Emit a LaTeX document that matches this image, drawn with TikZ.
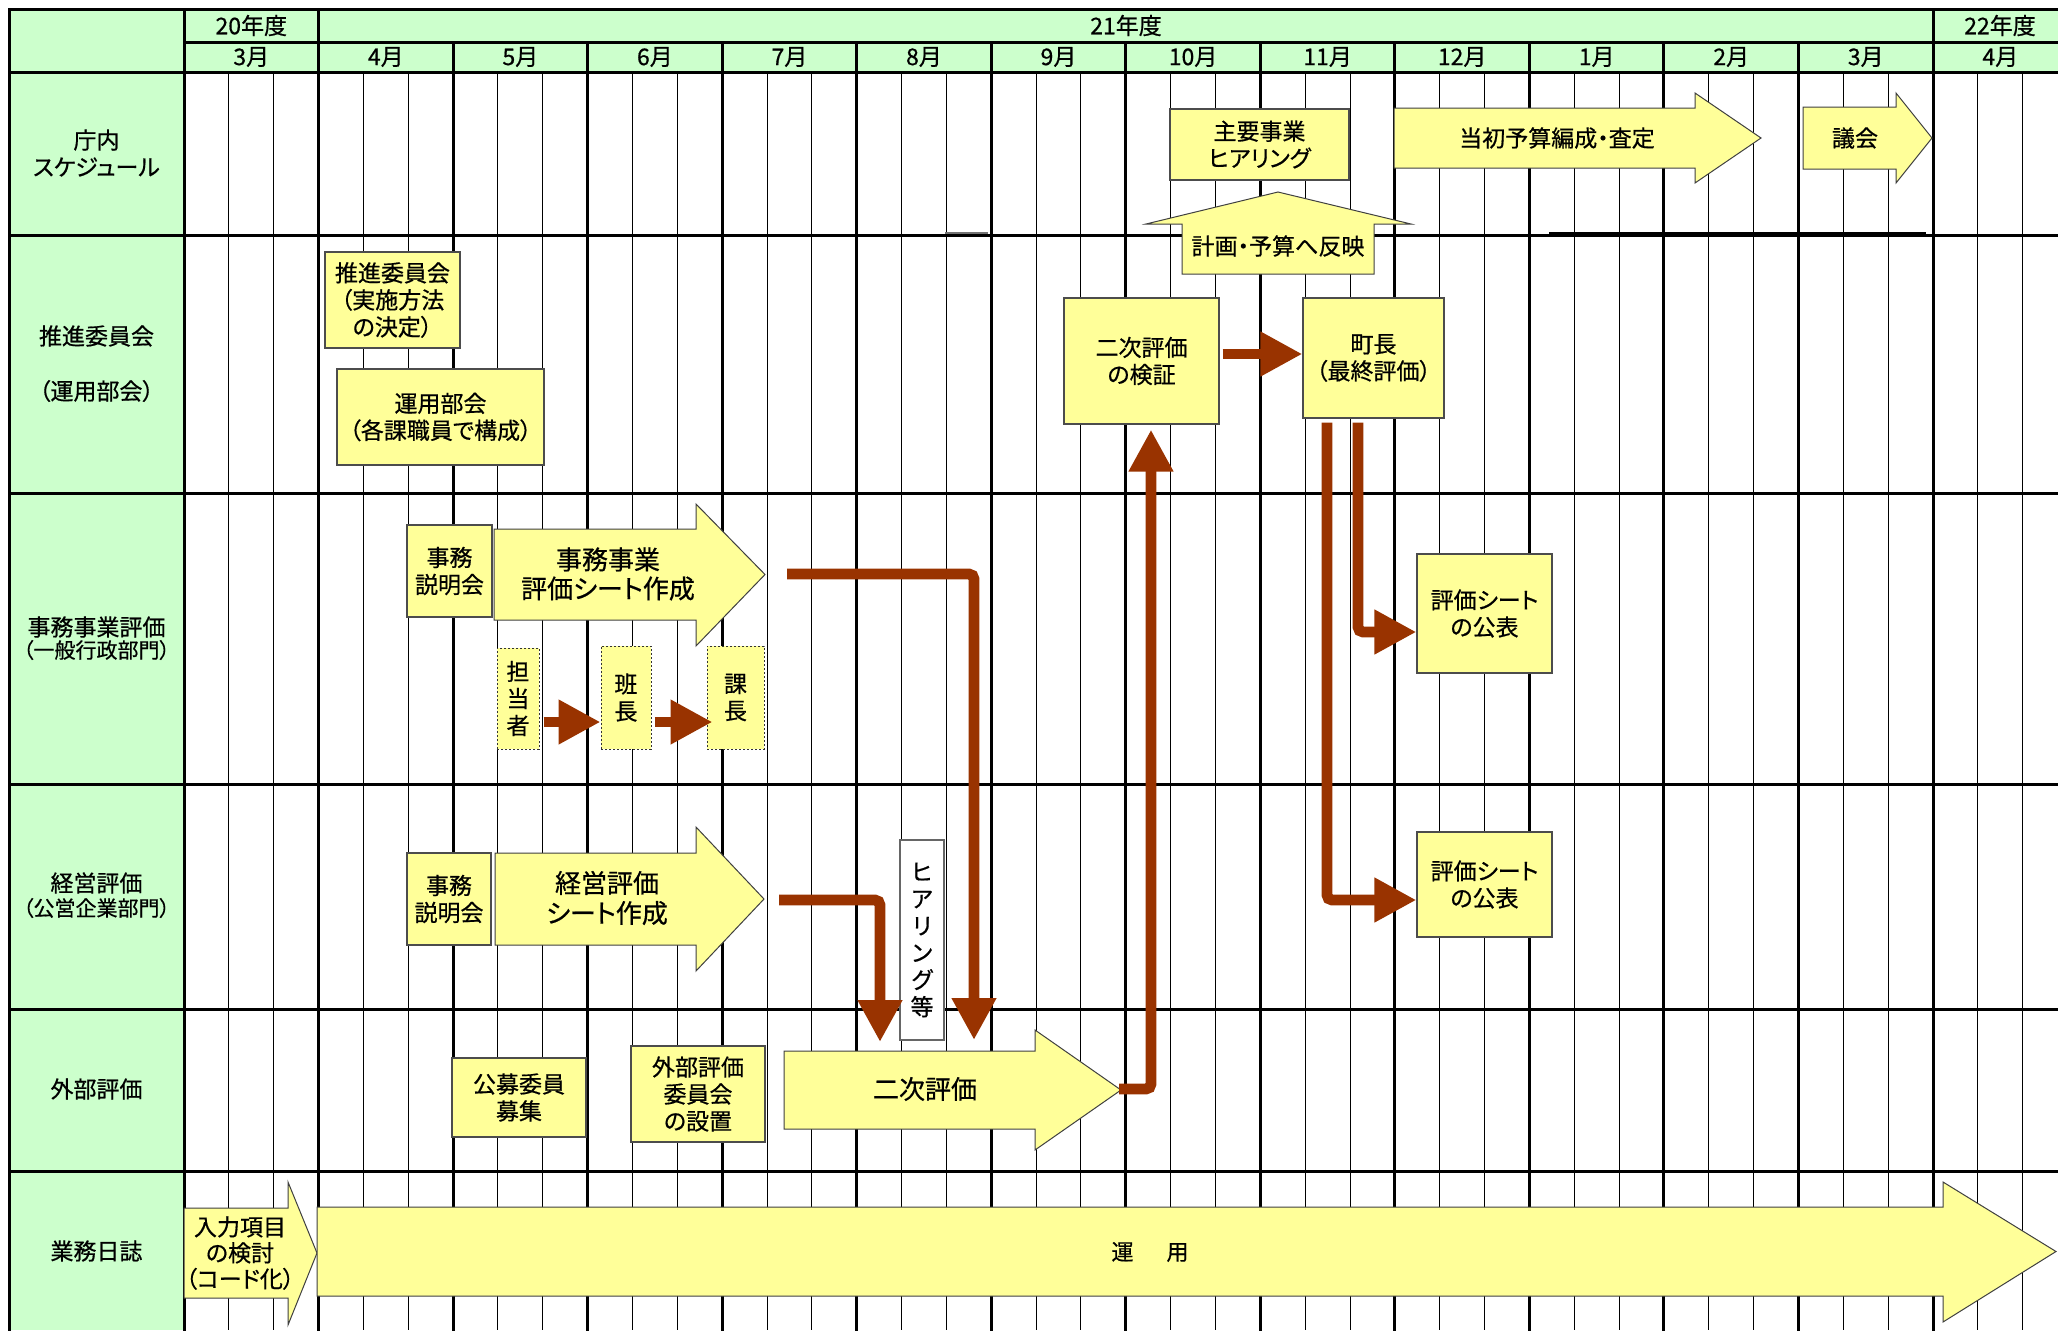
\documentclass[tikz,border=0pt]{standalone}
\usepackage{fontspec}
\setmainfont{Noto Sans CJK JP}[RawFeature={+palt}, FakeBold=0.6]
\usetikzlibrary{arrows.meta,calc}
\definecolor{hdrgreen}{HTML}{CCFFCC}
\definecolor{boxyellow}{HTML}{FFFF99}
\definecolor{conred}{HTML}{993300}
\newcommand{\myblockarrow}[7]{%
  \draw[arrowshape] (#1,#4) -- (#2,#4) -- (#2,#6) -- (#3,{(#4+#5)/2}) -- (#2,#7) -- (#2,#5) -- (#1,#5) -- cycle;}
\tikzset{
 gthin/.style={line width=0.5pt, black},
 gthick/.style={line width=1.5pt, black, line cap=rect},
 txt/.style={font=\fontsize{11.5}{13.5}\selectfont, align=center, inner sep=0pt},
 bigtxt/.style={font=\fontsize{13}{14.5}\selectfont, align=center, inner sep=0pt},
 ybox/.style={txt, draw=black!70, fill=boxyellow, line width=0.6pt},
 dbox/.style={txt, draw=black!80, fill=boxyellow, line width=0.5pt, dash pattern=on 1.2pt off 0.8pt},
 wbox/.style={txt, draw=black!60, fill=white, line width=0.6pt},
 arrowshape/.style={fill=boxyellow, draw=black!75, line width=0.5pt, line join=miter},
 conn/.style={draw=conred, line width=5.4pt, rounded corners=2.5pt, -{Triangle[length=21pt,width=21pt]}},
 hdr/.style={font=\fontsize{11.5}{13.5}\selectfont, inner sep=0pt},
}
\begin{document}
\begin{tikzpicture}[x=0.5pt,y=-0.5pt]
\useasboundingbox (0,0) rectangle (2058,1330);
\fill[white] (0,0) rectangle (2058,1330);
% green areas
\fill[hdrgreen] (9,9) rectangle (2058,72);
\fill[hdrgreen] (9,72) rectangle (184,1330);
% thin sub-column lines
\foreach \k in {0,...,13}{\foreach \j in {1,2}{
  \draw[gthin] ({184+(\k+\j/3)*134.54},72) -- ({184+(\k+\j/3)*134.54},1330);}}
% thick verticals
\foreach \k in {1,...,13}{\draw[gthick] ({184+\k*134.54},42) -- ({184+\k*134.54},1330);}
\draw[gthick] (184,9) -- (184,1330);
\draw[gthick] (318.54,9) -- (318.54,42);
\draw[gthick] (1933,9) -- (1933,42);
\draw[gthick] (9,9) -- (9,1330);
% horizontals
\draw[gthick] (9,9) -- (2058,9);
\draw[gthick] (184,42) -- (2058,42);
\foreach \yy in {72,235,493,784,1009,1171}{\draw[gthick] (9,\yy) -- (2058,\yy);}
\draw[line width=1pt, black!55] (945,232.5) -- (988,232.5);
\draw[line width=1pt, black] (1549,232.5) -- (1926,232.5);
% header texts
\node[hdr] (y20) at (251.3,25.5) {20年度};
\node[hdr] (y21) at (1126,25.5) {21年度};
\node[hdr] (y22) at (2000,25.5) {22年度};
\foreach \m [count=\k from 0] in {3,4,5,6,7,8,9,10,11,12,1,2,3,4}{
  \node[hdr] (mon\k) at ({184+(\k+0.5)*134.54},57) {\m{}月};}
% row labels
\node[txt] (r1) at (96.5,153) {庁内\\スケジュール};
\node[txt] (r2a) at (96.5,336) {推進委員会};
\node[txt] (r2b) at (96.5,391) {（運用部会）};
\node[txt] (r3a) at (96.5,627) {事務事業評価};
\node[txt, font=\fontsize{10.5}{12}\selectfont] (r3b) at (96.5,650) {（一般行政部門）};
\node[txt] (r4a) at (96.5,883) {経営評価};
\node[txt, font=\fontsize{10.5}{12}\selectfont] (r4b) at (96.5,908) {（公営企業部門）};
\node[txt] (r5) at (96.5,1089) {外部評価};
\node[txt] (r6) at (96.5,1251) {業務日誌};
% 庁内スケジュール
\node[ybox, minimum width=89.5pt, minimum height=35.5pt] (shuyo) at (1259.5,144.5) {主要事業\\ヒアリング};
\draw[arrowshape] (1182,274) -- (1182,224) -- (1146,224) -- (1278,192) -- (1411,224) -- (1374,224) -- (1374,274) -- cycle;
\node[txt] (hanei) at (1278,246) {計画・予算へ反映};
\myblockarrow{1394}{1695}{1761}{108}{168}{93}{183}
\node[txt] (tosho) at (1557,138) {当初予算編成・査定};
\myblockarrow{1803}{1896}{1932}{107}{169}{93}{183}
\node[txt] (gikai) at (1855,138) {議会};
% 推進委員会
\node[ybox, minimum width=67.5pt, minimum height=48pt] (suishin) at (392.5,300) {推進委員会\\（実施方法\\の決定）};
\node[ybox, minimum width=103.5pt, minimum height=48pt] (unyo) at (440.5,417) {運用部会\\（各課職員で構成）};
\node[ybox, minimum width=77.5pt, minimum height=63pt] (kensho) at (1141.5,361) {二次評価\\の検証};
\node[ybox, minimum width=70.5pt, minimum height=60pt] (chocho) at (1373.5,358) {町長\\（最終評価）};
% 事務事業評価
\node[ybox, minimum width=42.5pt, minimum height=46pt] (setsu1) at (449.5,571) {事務\\説明会};
\myblockarrow{494}{696}{765}{529}{620}{504}{646}
\node[bigtxt] (jimuArr) at (608,574) {事務事業\\評価シート作成};
\node[dbox, minimum width=21pt, minimum height=50.5pt] (tanto) at (518,698.5) {担\\当\\者};
\node[dbox, minimum width=25pt, minimum height=51.5pt] (hancho) at (626,697.5) {班\\長};
\node[dbox, minimum width=28.5pt, minimum height=51.5pt] (kacho) at (735.5,697.5) {課\\長};
\node[ybox, minimum width=67.5pt, minimum height=59.5pt] (kohyo1) at (1484.5,613.5) {評価シート\\の公表};
% 経営評価
\node[ybox, minimum width=42pt, minimum height=46pt] (setsu2) at (449,899) {事務\\説明会};
\myblockarrow{495}{696}{764}{853}{945}{827}{971}
\node[bigtxt, font=\fontsize{13}{15}\selectfont] (keieiArr) at (607,898) {経営評価\\シート作成};
\node[wbox, minimum width=22pt, minimum height=100pt] (hearing) at (922,940) {ヒ\\ア\\リ\\ン\\グ\\等};
\node[ybox, minimum width=67.5pt, minimum height=52.5pt] (kohyo2) at (1484.5,884.5) {評価シート\\の公表};
% 外部評価
\node[ybox, minimum width=67pt, minimum height=39.5pt] (kobo) at (519,1097.5) {公募委員\\募集};
\node[ybox, minimum width=67pt, minimum height=48pt] (gaibu) at (698,1094) {外部評価\\委員会\\の設置};
\myblockarrow{784}{1035}{1121}{1051}{1129}{1030}{1150}
\node[bigtxt] (nijiArr) at (925,1089) {二次評価};
% 業務日誌
\myblockarrow{184}{288}{317}{1208}{1298}{1182}{1325}
\node[txt, font=\fontsize{11.5}{13}\selectfont] (nyuryoku) at (240,1253) {入力項目\\の検討\\（コード化）};
\myblockarrow{317}{1943}{2056}{1207}{1296}{1182}{1322}
\node[txt, font=\fontsize{11}{13}\selectfont] (unyoArr) at (1150,1252) {運\hspace{16.5pt}用};
% connector end points at block arrows
\coordinate (jimuOut) at (787,574);
\coordinate (nijiIn1) at (974,1040);
\coordinate (keieiOut) at (779,900);
\coordinate (nijiIn2) at (880,1042);
\coordinate (nijiOut) at (1119,1089);
% connectors
\draw[conn] ([xshift=1.5pt,yshift=3.5pt]kensho.east) -- (chocho.west |- 0,354);
\draw[conn] ($(tanto.east |- 0,722)+(4,0)$) -- (hancho.west |- 0,722);
\draw[conn] ($(hancho.east |- 0,722)+(3,0)$) -- ($(kacho.west |- 0,722)+(6,0)$);
\draw[conn] (jimuOut) -| (nijiIn1);
\draw[conn] (keieiOut) -| (nijiIn2);
\draw[conn] (nijiOut) -| ($(kensho.south)+(9.5,5)$);
\draw[conn] ($(chocho.south)+(-46.5,4)$) |- (kohyo2.west |- 0,900);
\draw[conn] ($(chocho.south)+(-15.5,4)$) |- (kohyo1.west |- 0,632);
\end{tikzpicture}
\end{document}
